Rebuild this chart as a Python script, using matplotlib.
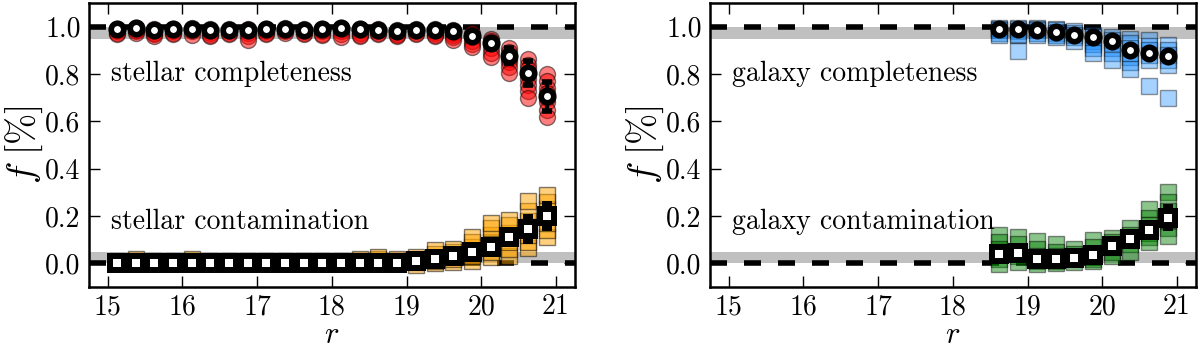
import numpy as np
import matplotlib
matplotlib.use("Agg")
import matplotlib.pyplot as plt

plt.rcParams['font.family'] = 'serif'
plt.rcParams['font.serif'] = ['cmr10']
plt.rcParams['mathtext.fontset'] = 'cm'
plt.rcParams['axes.formatter.use_mathtext'] = True
plt.rcParams['axes.unicode_minus'] = False

# ---------------- data ----------------
star_r = [15.125, 15.375, 15.625, 15.875, 16.125, 16.375, 16.625, 16.875,
          17.125, 17.375, 17.625, 17.875, 18.125, 18.375, 18.625, 18.875,
          19.125, 19.375, 19.625, 19.875, 20.125, 20.375, 20.625, 20.875]
star_comp = [0.990, 0.994, 0.985, 0.990, 0.991, 0.985, 0.987, 0.987,
             0.991, 0.990, 0.987, 0.990, 0.994, 0.990, 0.987, 0.980,
             0.987, 0.987, 0.980, 0.960, 0.930, 0.878, 0.805, 0.705]
star_comp_err = [0.005, 0.005, 0.005, 0.005, 0.005, 0.005, 0.005, 0.005,
                 0.005, 0.005, 0.005, 0.005, 0.005, 0.005, 0.005, 0.005,
                 0.005, 0.005, 0.008, 0.015, 0.02, 0.03, 0.05, 0.06]
star_comp_real = [
    [0.99, 0.985, 0.98, 0.975, 0.97],
    [0.995, 0.99, 0.985, 0.98, 0.975],
    [0.99, 0.98, 0.975, 0.97, 0.96],
    [0.99, 0.985, 0.98, 0.975, 0.97],
    [0.995, 0.99, 0.985, 0.98, 0.965],
    [0.99, 0.98, 0.975, 0.965, 0.96],
    [0.99, 0.985, 0.98, 0.975, 0.97],
    [0.99, 0.985, 0.975, 0.96, 0.945],
    [0.99, 0.985, 0.98, 0.975, 0.97],
    [0.995, 0.99, 0.985, 0.98, 0.975],
    [0.99, 0.985, 0.98, 0.975, 0.97],
    [0.99, 0.985, 0.98, 0.97, 0.965],
    [0.995, 0.99, 0.98, 0.97, 0.955],
    [0.99, 0.985, 0.975, 0.965, 0.96],
    [0.99, 0.985, 0.98, 0.975, 0.97],
    [0.985, 0.98, 0.97, 0.965, 0.96],
    [0.99, 0.985, 0.98, 0.975, 0.97],
    [0.99, 0.98, 0.975, 0.965, 0.96],
    [0.985, 0.975, 0.965, 0.955, 0.945],
    [0.975, 0.965, 0.955, 0.94, 0.925, 0.915],
    [0.95, 0.94, 0.93, 0.91, 0.89, 0.87],
    [0.91, 0.895, 0.88, 0.865, 0.85, 0.83, 0.805],
    [0.865, 0.84, 0.82, 0.80, 0.78, 0.755, 0.73, 0.70],
    [0.80, 0.77, 0.74, 0.72, 0.70, 0.68, 0.65, 0.62],
]

star_cont = [0.0, 0.0, 0.0, 0.0, 0.0, 0.0, 0.0, 0.0,
             0.0, 0.0, 0.0, 0.0, 0.0, 0.0, 0.0, 0.003,
             0.010, 0.017, 0.030, 0.048, 0.069, 0.112, 0.145, 0.200]
star_cont_err = [0.005, 0.005, 0.005, 0.005, 0.005, 0.005, 0.005, 0.005,
                 0.005, 0.005, 0.005, 0.005, 0.005, 0.005, 0.005, 0.005,
                 0.005, 0.01, 0.015, 0.02, 0.03, 0.03, 0.05, 0.05]
star_cont_real = [
    [0.0, 0.005, 0.01],
    [0.0, 0.01, 0.02],
    [0.0, 0.005, 0.01],
    [0.0, 0.005, 0.01],
    [0.0, 0.01, 0.02],
    [0.0, 0.005, 0.01],
    [0.0, 0.005, 0.01],
    [0.0, 0.005, 0.01],
    [0.0, 0.005, 0.01],
    [0.0, 0.005, 0.01],
    [0.0, 0.005, 0.01],
    [0.0, 0.005, 0.01],
    [0.0, 0.005, 0.01],
    [0.0, 0.01, 0.02],
    [0.0, 0.01, 0.02, 0.025],
    [0.0, 0.01, 0.02],
    [-0.005, 0.005, 0.015, 0.025],
    [0.0, 0.01, 0.025, 0.04, 0.055],
    [0.005, 0.02, 0.035, 0.05, 0.06],
    [0.01, 0.03, 0.05, 0.07, 0.09, 0.11],
    [0.025, 0.05, 0.07, 0.09, 0.12, 0.15, 0.17],
    [0.03, 0.06, 0.09, 0.11, 0.13, 0.16, 0.185],
    [0.065, 0.09, 0.12, 0.15, 0.18, 0.22, 0.265],
    [0.11, 0.14, 0.17, 0.20, 0.23, 0.26, 0.29],
]

gal_r = [18.625, 18.875, 19.125, 19.375, 19.625,
         19.875, 20.125, 20.375, 20.625, 20.875]
gal_comp = [0.990, 0.989, 0.985, 0.978, 0.966,
            0.957, 0.938, 0.900, 0.889, 0.878]
gal_comp_err = [0.005, 0.005, 0.005, 0.005, 0.005,
                0.008, 0.01, 0.01, 0.012, 0.015]
gal_comp_real = [
    [0.995, 0.99, 0.985, 0.975, 0.966],
    [0.995, 0.99, 0.98, 0.97, 0.966, 0.897],
    [0.995, 0.99, 0.985, 0.975, 0.966],
    [0.99, 0.985, 0.975, 0.965, 0.955],
    [0.98, 0.975, 0.965, 0.955, 0.94],
    [0.966, 0.955, 0.94, 0.925, 0.91, 0.89],
    [0.958, 0.945, 0.93, 0.91, 0.89, 0.86],
    [0.95, 0.93, 0.91, 0.89, 0.87, 0.85, 0.82],
    [0.945, 0.92, 0.90, 0.88, 0.86, 0.75],
    [0.924, 0.90, 0.88, 0.86, 0.838, 0.70],
]

gal_cont = [0.038, 0.045, 0.020, 0.020, 0.024,
            0.034, 0.073, 0.104, 0.140, 0.193]
gal_cont_err = [0.01, 0.01, 0.01, 0.01, 0.01,
                0.01, 0.015, 0.02, 0.03, 0.045]
gal_cont_real = [
    [0.12, 0.09, 0.06, 0.04, 0.02, -0.004],
    [0.11, 0.08, 0.05, 0.03, 0.004],
    [0.095, 0.06, 0.03, 0.01, -0.002],
    [0.08, 0.05, 0.03, 0.01, 0.0],
    [0.06, 0.04, 0.02, 0.004],
    [0.10, 0.07, 0.04, 0.02, 0.01],
    [0.108, 0.09, 0.07, 0.05, 0.03],
    [0.15, 0.12, 0.10, 0.08, 0.05],
    [0.23, 0.19, 0.16, 0.13, 0.11, 0.09],
    [0.30, 0.26, 0.22, 0.18, 0.15, 0.115],
]

x_ticks = [15, 16, 17, 18, 19, 20, 21]
y_ticks = [0.0, 0.2, 0.4, 0.6, 0.8, 1.0]

# ---------------- plotting ----------------
FS = 20
LFS = 27
XFS = 22
fig = plt.figure(figsize=(12, 3.47), dpi=100)
ax1 = fig.add_axes([89 / 1200, 60 / 347, 485.6 / 1200, 284 / 347])
ax2 = fig.add_axes([710 / 1200, 60 / 347, 485.6 / 1200, 284 / 347])


def draw_real(ax, xs, reals, marker, color, alpha):
    for x, vals in zip(xs, reals):
        ax.plot([x] * len(vals), vals, ls='none', marker=marker, ms=11.5,
                mfc=color, mec='k', mew=1.0, alpha=alpha, zorder=3)


def draw_median(ax, xs, ys, err, marker):
    if marker == 'o':
        ms, mew = 9.0, 4.0
    else:
        ms, mew = 9.4, 4.3
    ax.errorbar(xs, ys, yerr=err, fmt=marker, ms=ms, mfc='white', mec='k',
                mew=mew, ecolor='k', elinewidth=3, capsize=3.5, capthick=2.5,
                zorder=5)


def style(ax):
    ax.axhspan(0.95, 1.0, color='#c0c0c0', lw=0, zorder=1)
    ax.axhspan(0.0, 0.05, color='#c0c0c0', lw=0, zorder=1)
    for yv in (0.0, 1.0):
        ax.axhline(yv, color='k', lw=4, ls=(0, (3.06, 3.06)), zorder=2)
    ax.set_xlim(14.75, 21.25)
    ax.set_ylim(-0.1, 1.1)
    ax.set_xticks(x_ticks)
    ax.set_yticks(y_ticks)
    ax.set_xticklabels([str(t) for t in x_ticks])
    ax.set_yticklabels(['%.1f' % t for t in y_ticks])
    ax.tick_params(direction='in', length=8, width=1, top=True, right=True,
                   labelsize=FS)
    ax.tick_params(axis='x', pad=5)
    ax.tick_params(axis='y', pad=6)
    for s in ax.spines.values():
        s.set_linewidth(1.8)
    ax.set_xlabel('$r$', fontsize=XFS, labelpad=1)
    ax.set_ylabel(r'$f\ [\%]$', fontsize=LFS, labelpad=0)


style(ax1)
style(ax2)

draw_real(ax1, star_r, star_comp_real, 'o', 'red', 0.5)
draw_median(ax1, star_r, star_comp, star_comp_err, 'o')
draw_real(ax1, star_r, star_cont_real, 's', 'orange', 0.5)
draw_median(ax1, star_r, star_cont, star_cont_err, 's')

draw_real(ax2, gal_r, gal_comp_real, 's', 'dodgerblue', 0.4)
draw_median(ax2, gal_r, gal_comp, gal_comp_err, 'o')
draw_real(ax2, gal_r, gal_cont_real, 's', 'green', 0.45)
draw_median(ax2, gal_r, gal_cont, gal_cont_err, 's')

ax1.text(15.05, 0.80, 'stellar completeness', fontsize=FS, va='center', ha='left', zorder=6)
ax1.text(15.05, 0.177, 'stellar contamination', fontsize=FS, va='center', ha='left', zorder=6)
ax2.text(15.05, 0.80, 'galaxy completeness', fontsize=FS, va='center', ha='left', zorder=6)
ax2.text(15.05, 0.177, 'galaxy contamination', fontsize=FS, va='center', ha='left', zorder=6)

fig.savefig('out.png', dpi=100)
